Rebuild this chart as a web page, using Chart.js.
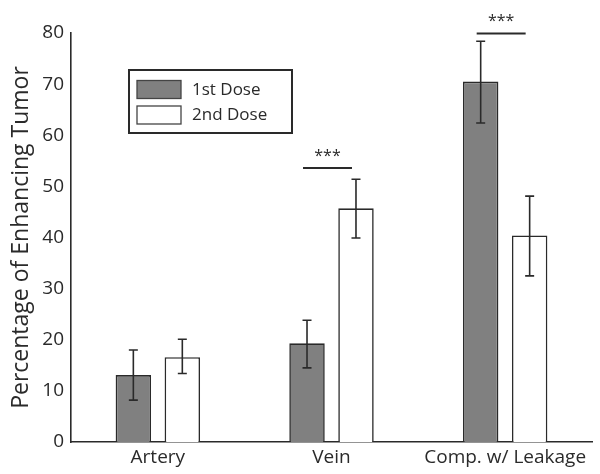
<!DOCTYPE html>
<html>
<head>
<meta charset="utf-8">
<script src="https://cdn.jsdelivr.net/npm/chart.js@4/dist/chart.umd.min.js"></script>
<style>
  html, body { margin: 0; padding: 0; background: #fff; }
  #wrap { width: 600px; height: 474px; position: relative; }
</style>
</head>
<body>
<div id="wrap"><canvas id="c" width="600" height="474"></canvas></div>
<script>
// ---- data ----
const categories = ['Artery', 'Vein', 'Comp. w/ Leakage'];
const seriesNames = ['1st Dose', '2nd Dose'];
const dose1 = [13.1, 19.3, 70.5];
const dose1Low = [8.2, 14.5, 62.4];
const dose1High = [18.0, 23.8, 78.4];
const dose2 = [16.6, 45.7, 40.4];
const dose2Low = [13.4, 39.9, 32.5];
const dose2High = [20.1, 51.4, 48.1];
const yTicks = [0, 10, 20, 30, 40, 50, 60, 70, 80];
const sigCategories = [1, 2];
const sigLevels = [53.6, 79.9];
const sigLabels = ['***', '***'];

const FONT = '"Open Sans", "DejaVu Sans", sans-serif';
const INK = '#2a2a2a';

const errorBarPlugin = {
  id: 'errorBars',
  afterDatasetsDraw(chart) {
    const ctx = chart.ctx;
    const y = chart.scales.y;
    const lows = [dose1Low, dose2Low];
    const highs = [dose1High, dose2High];
    ctx.save();
    ctx.strokeStyle = INK;
    ctx.lineWidth = 1.6;
    chart.data.datasets.forEach((ds, di) => {
      const meta = chart.getDatasetMeta(di);
      meta.data.forEach((bar, i) => {
        const x = bar.x;
        const yl = y.getPixelForValue(lows[di][i]);
        const yh = y.getPixelForValue(highs[di][i]);
        const cap = 4.5;
        ctx.beginPath();
        ctx.moveTo(x, yl); ctx.lineTo(x, yh);
        ctx.moveTo(x - cap, yl); ctx.lineTo(x + cap, yl);
        ctx.moveTo(x - cap, yh); ctx.lineTo(x + cap, yh);
        ctx.stroke();
      });
    });
    ctx.restore();
  }
};

const sigPlugin = {
  id: 'significance',
  afterDatasetsDraw(chart) {
    const ctx = chart.ctx;
    const y = chart.scales.y;
    const m0 = chart.getDatasetMeta(0);
    const m1 = chart.getDatasetMeta(1);
    ctx.save();
    ctx.strokeStyle = INK;
    ctx.fillStyle = INK;
    ctx.lineWidth = 2;
    sigCategories.forEach((ci, k) => {
      const x0 = m0.data[ci].x - 4;
      const x1 = m1.data[ci].x - 4;
      const yy = y.getPixelForValue(sigLevels[k]);
      ctx.beginPath();
      ctx.moveTo(x0, yy); ctx.lineTo(x1, yy);
      ctx.stroke();
      ctx.font = '16px ' + FONT;
      ctx.textAlign = 'center';
      ctx.textBaseline = 'middle';
      ctx.fillText(sigLabels[k], (x0 + x1) / 2, yy - 12);
    });
    ctx.restore();
  }
};

const legendBoxPlugin = {
  id: 'legendBox',
  afterDraw(chart) {
    const ctx = chart.ctx;
    const a = chart.chartArea;
    const bx = a.left + 58, by = a.top + 37, bw = 163, bh = 63;
    ctx.save();
    ctx.strokeStyle = INK;
    ctx.lineWidth = 2;
    ctx.fillStyle = '#fff';
    ctx.fillRect(bx, by, bw, bh);
    ctx.strokeRect(bx, by, bw, bh);
    chart.data.datasets.forEach((ds, i) => {
      const sy = by + 10.5 + i * 25.5;
      ctx.fillStyle = ds.backgroundColor;
      ctx.fillRect(bx + 8, sy, 44, 18);
      ctx.lineWidth = 1.3;
      ctx.strokeStyle = '#444';
      ctx.strokeRect(bx + 8, sy, 44, 18);
      ctx.fillStyle = INK;
      ctx.font = '17px ' + FONT;
      ctx.textAlign = 'left';
      ctx.textBaseline = 'middle';
      ctx.fillText(ds.label, bx + 63, sy + 9.5);
    });
    ctx.restore();
  }
};

new Chart(document.getElementById('c'), {
  type: 'bar',
  data: {
    labels: categories,
    datasets: [
      { label: seriesNames[0], data: dose1, backgroundColor: '#808080', borderColor: INK, borderWidth: 1.6 },
      { label: seriesNames[1], data: dose2, backgroundColor: '#ffffff', borderColor: INK, borderWidth: 1.6 }
    ]
  },
  options: {
    responsive: false,
    animation: false,
    layout: { padding: { top: 33, right: 8, left: 0, bottom: 0 } },
    datasets: { bar: { categoryPercentage: 0.564, barPercentage: 0.724 } },
    plugins: { legend: { display: false }, tooltip: { enabled: false } },
    scales: {
      x: {
        grid: { display: false, drawTicks: false },
        border: { display: true, color: INK, width: 1.6 },
        ticks: { color: INK, font: { family: FONT, size: 19 }, padding: 4 },
        afterFit(s) { s.height = 32; }
      },
      y: {
        min: 0, max: 80,
        grid: { display: false, drawTicks: false },
        border: { display: true, color: INK, width: 1.6 },
        afterBuildTicks(s) { s.ticks = yTicks.map(v => ({ value: v })); },
        ticks: { color: INK, font: { family: FONT, size: 19 }, padding: 7 },
        title: { display: true, text: 'Percentage of Enhancing Tumor', color: INK,
                 font: { family: FONT, size: 23 }, padding: { top: 8, bottom: 0 } },
        afterFit(s) { s.width = 71; }
      }
    }
  },
  plugins: [errorBarPlugin, sigPlugin, legendBoxPlugin]
});
</script>
</body>
</html>
